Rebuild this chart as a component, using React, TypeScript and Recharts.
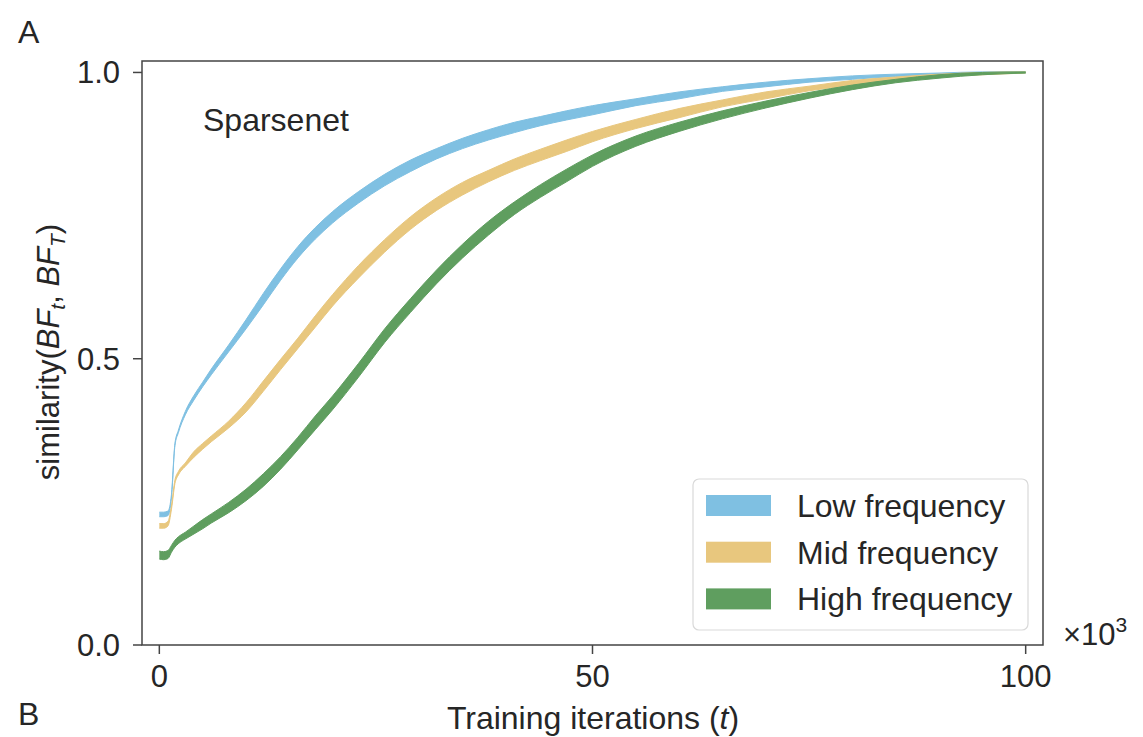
import React from 'react';
import { ComposedChart, Area, XAxis, YAxis, ReferenceArea, Customized } from 'recharts';

const iterations = [0, 0.5, 1, 1.4, 1.8, 2.2, 3, 4, 5, 6, 8, 10, 12, 14, 16, 18, 20, 23, 26, 29, 32, 35, 38, 41, 44, 47, 50, 55, 60, 65, 70, 75, 80, 85, 90, 95, 100];

const lowMean = [0.228, 0.228, 0.23, 0.26, 0.35, 0.373, 0.405, 0.432, 0.455, 0.477, 0.518, 0.56, 0.604, 0.647, 0.686, 0.719, 0.747, 0.782, 0.812, 0.837, 0.858, 0.876, 0.891, 0.904, 0.915, 0.925, 0.934, 0.948, 0.96, 0.971, 0.979, 0.986, 0.991, 0.995, 0.997, 0.999, 1.0];
const lowSpread = [0.004, 0.004, 0.004, 0.003, 0.002, 0.002, 0.003, 0.004, 0.004, 0.005, 0.006, 0.008, 0.01, 0.01, 0.01, 0.01, 0.01, 0.01, 0.01, 0.01, 0.009, 0.009, 0.009, 0.009, 0.008, 0.008, 0.008, 0.006, 0.006, 0.004, 0.004, 0.003, 0.003, 0.002, 0.002, 0.002, 0.001];

const midMean = [0.208, 0.208, 0.212, 0.24, 0.285, 0.3, 0.315, 0.333, 0.347, 0.36, 0.385, 0.415, 0.452, 0.49, 0.527, 0.565, 0.602, 0.652, 0.697, 0.737, 0.77, 0.797, 0.819, 0.839, 0.856, 0.872, 0.888, 0.91, 0.929, 0.946, 0.96, 0.972, 0.982, 0.99, 0.995, 0.998, 1.0];
const midSpread = [0.004, 0.004, 0.004, 0.003, 0.003, 0.003, 0.003, 0.005, 0.005, 0.005, 0.006, 0.008, 0.009, 0.009, 0.009, 0.01, 0.01, 0.011, 0.011, 0.011, 0.011, 0.011, 0.01, 0.01, 0.01, 0.01, 0.009, 0.008, 0.008, 0.006, 0.006, 0.004, 0.004, 0.002, 0.002, 0.002, 0.001];

const highMean = [0.157, 0.156, 0.158, 0.168, 0.177, 0.183, 0.191, 0.201, 0.211, 0.221, 0.24, 0.262, 0.288, 0.318, 0.352, 0.388, 0.423, 0.48, 0.54, 0.593, 0.643, 0.688, 0.728, 0.763, 0.793, 0.82, 0.846, 0.88, 0.905, 0.926, 0.944, 0.96, 0.974, 0.985, 0.993, 0.998, 1.0];
const highSpread = [0.007, 0.007, 0.007, 0.006, 0.006, 0.006, 0.006, 0.007, 0.008, 0.008, 0.009, 0.01, 0.011, 0.011, 0.011, 0.012, 0.012, 0.012, 0.012, 0.012, 0.012, 0.012, 0.012, 0.011, 0.011, 0.011, 0.01, 0.009, 0.008, 0.007, 0.006, 0.005, 0.004, 0.003, 0.003, 0.002, 0.001];

const xTicks = [0, 50, 100];
const yTicks = [0, 0.5, 1.0];

const seriesNames = ['Low frequency', 'Mid frequency', 'High frequency'];
const seriesColors = ['#7fc0e2', '#e8c77e', '#5f9e5f'];

const data = iterations.map((x, i) => ({
  x,
  low: [lowMean[i] - lowSpread[i], lowMean[i] + lowSpread[i]],
  mid: [midMean[i] - midSpread[i], midMean[i] + midSpread[i]],
  high: [highMean[i] - highSpread[i], highMean[i] + highSpread[i]],
}));

const FONT = '"Liberation Sans", Arial, Helvetica, sans-serif';
const TXT = '#262626';

const Annotations = () => (
  <g fontFamily={FONT} fill={TXT}>
    <text x={18} y={43} fontSize={32}>A</text>
    <text x={18} y={725} fontSize={32}>B</text>
    <text x={203} y={131} fontSize={32}>Sparsenet</text>
    <text transform="rotate(-90)" x={-352} y={59} fontSize={31} textAnchor="middle">
      similarity(
      <tspan fontStyle="italic">BF</tspan>
      <tspan fontStyle="italic" fontSize={21} dy={6}>t</tspan>
      <tspan dy={-6}>, </tspan>
      <tspan fontStyle="italic">BF</tspan>
      <tspan fontStyle="italic" fontSize={21} dy={6}>T</tspan>
      <tspan dy={-6}>)</tspan>
    </text>
    <text x={593} y={729} fontSize={32} textAnchor="middle">
      Training iterations (<tspan fontStyle="italic">t</tspan>)
    </text>
    <text x={1063} y={645} fontSize={31}>
      ×10<tspan fontSize={21} dy={-13}>3</tspan>
    </text>
    <rect x={693} y={479} width={335} height={151} rx={6} ry={6} fill="#ffffff" fillOpacity={0.8} stroke="#d9d9d9" strokeWidth={1.2} />
    {seriesNames.map((name, i) => (
      <g key={name}>
        <rect x={706} y={495 + i * 46.7} width={65} height={21} fill={seriesColors[i]} />
        <text x={797} y={517 + i * 46.5} fontSize={32}>{name}</text>
      </g>
    ))}
  </g>
);

export default function App() {
  return (
    <div style={{ position: 'absolute', left: 0, top: 0, width: 1143, height: 737, background: '#fff' }}>
      <ComposedChart width={1143} height={737} data={data} margin={{ top: 61, right: 100, left: 0, bottom: 0 }}>
        <XAxis
          dataKey="x"
          type="number"
          domain={[-2, 102]}
          ticks={xTicks}
          allowDataOverflow
          height={92}
          axisLine={false}
          tickLine={{ stroke: '#444', strokeWidth: 1.5 }}
          tickSize={9}
          tickMargin={11}
          tick={{ fill: TXT, fontSize: 31, fontFamily: FONT }}
        />
        <YAxis
          type="number"
          domain={[0, 1.02]}
          ticks={yTicks}
          allowDataOverflow
          width={142}
          axisLine={false}
          tickLine={{ stroke: '#444', strokeWidth: 1.5 }}
          tickSize={9}
          tickMargin={13}
          tickFormatter={(v: number) => v.toFixed(1)}
          tick={{ fill: TXT, fontSize: 31, fontFamily: FONT }}
        />
        <Area dataKey="low" type="monotone" fill={seriesColors[0]} fillOpacity={1} stroke={seriesColors[0]} strokeWidth={1} isAnimationActive={false} dot={false} activeDot={false} />
        <Area dataKey="mid" type="monotone" fill={seriesColors[1]} fillOpacity={1} stroke={seriesColors[1]} strokeWidth={1} isAnimationActive={false} dot={false} activeDot={false} />
        <Area dataKey="high" type="monotone" fill={seriesColors[2]} fillOpacity={1} stroke={seriesColors[2]} strokeWidth={1} isAnimationActive={false} dot={false} activeDot={false} />
        <ReferenceArea x1={-2} x2={102} y1={0} y2={1.02} fill="none" fillOpacity={0} stroke="#444" strokeWidth={1.5} ifOverflow="visible" />
        <Customized component={Annotations} />
      </ComposedChart>
    </div>
  );
}
